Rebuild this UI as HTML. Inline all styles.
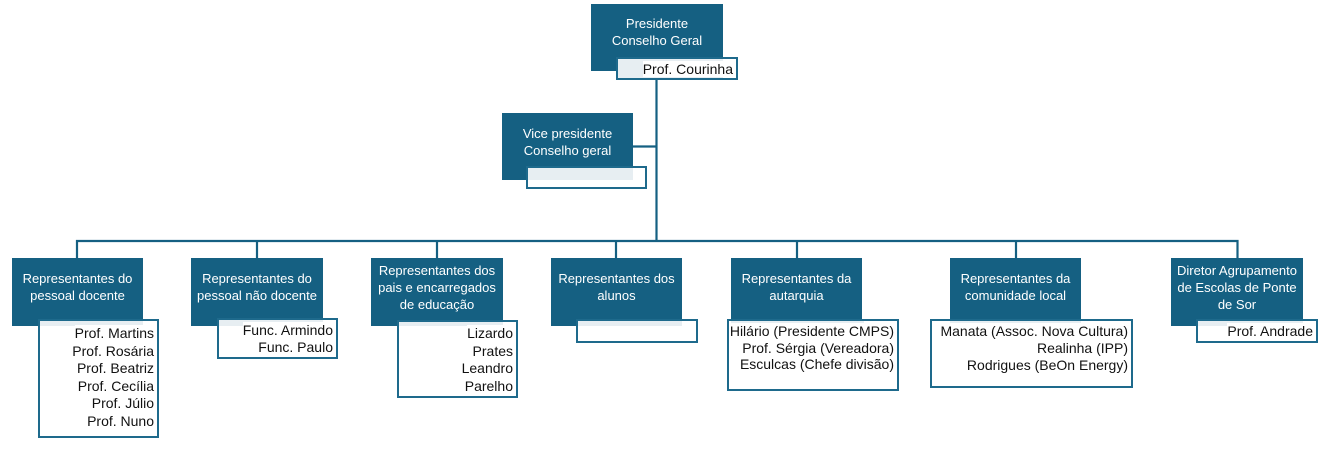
<!DOCTYPE html>
<html>
<head>
<meta charset="utf-8">
<style>
  html, body { margin:0; padding:0; background:#fff; }
  body { width:1333px; height:468px; position:relative; overflow:hidden;
         font-family:"Liberation Sans", Arial, sans-serif; }
  .b { position:absolute; background:#156082; color:#fff; font-size:13px; line-height:17px; }
  .bt { position:absolute; left:0; right:0; top:0; display:flex; flex-direction:column;
        justify-content:center; align-items:center; text-align:center; white-space:nowrap; }
  .n { position:absolute; background:#fff; border:2px solid #1e6a8c; box-sizing:border-box; }
  .tint { position:absolute; background:#e7eef2; }
  .nt { position:absolute; right:3px; text-align:right; color:#111; font-size:14px; white-space:nowrap; }
  .nt span { background:#fff; }
  svg { position:absolute; left:0; top:0; }
</style>
</head>
<body>

<svg width="1333" height="468">
  <g stroke="#156082" stroke-width="2.2" fill="none">
    <line x1="656.5" y1="80" x2="656.5" y2="241"/>
    <line x1="633" y1="146.5" x2="656.5" y2="146.5"/>
    <polyline points="77,258 77,241 1237.5,241 1237.5,258"/>
    <line x1="257" y1="241" x2="257" y2="258"/>
    <line x1="437" y1="241" x2="437" y2="258"/>
    <line x1="616" y1="241" x2="616" y2="258"/>
    <line x1="797" y1="241" x2="797" y2="258"/>
    <line x1="1016" y1="241" x2="1016" y2="258"/>
  </g>
</svg>

<!-- Presidente -->
<div class="b" style="left:591px;top:4px;width:132px;height:67px;">
  <div class="bt" style="height:56px;">Presidente<br>Conselho Geral</div>
</div>
<div class="n" style="left:616px;top:57px;width:122px;height:23px;">
  <div class="tint" style="left:0;top:0;width:105px;height:19px;"></div>
  <div class="nt" style="top:2px;line-height:17px;"><span>Prof. Courinha</span></div>
</div>

<!-- Vice -->
<div class="b" style="left:502px;top:113px;width:131px;height:67px;">
  <div class="bt" style="height:58px;">Vice presidente<br>Conselho geral</div>
</div>
<div class="n" style="left:526px;top:166px;width:121px;height:23px;">
  <div class="tint" style="left:0;top:0;width:105px;height:12px;"></div>
</div>

<!-- 1 -->
<div class="b" style="left:12px;top:258px;width:131px;height:68px;">
  <div class="bt" style="height:58px;">Representantes do<br>pessoal docente</div>
</div>
<div class="n" style="left:38px;top:319px;width:121px;height:119px;">
  <div class="tint" style="left:0;top:0;width:103px;height:5px;"></div>
  <div class="nt" style="top:4px;line-height:17.5px;"><span>Prof. Martins</span><br><span>Prof. Rosária</span><br><span>Prof. Beatriz</span><br><span>Prof. Cecília</span><br><span>Prof. Júlio</span><br><span>Prof. Nuno</span></div>
</div>

<!-- 2 -->
<div class="b" style="left:191px;top:258px;width:132px;height:68px;">
  <div class="bt" style="height:58px;">Representantes do<br>pessoal não docente</div>
</div>
<div class="n" style="left:217px;top:318px;width:121px;height:41px;">
  <div class="tint" style="left:0;top:0;width:104px;height:6px;"></div>
  <div class="nt" style="top:2px;line-height:17px;"><span>Func. Armindo</span><br><span>Func. Paulo</span></div>
</div>

<!-- 3 -->
<div class="b" style="left:371px;top:258px;width:132px;height:68px;">
  <div class="bt" style="height:58px;">Representantes dos<br>pais e encarregados<br>de educação</div>
</div>
<div class="n" style="left:397px;top:320px;width:121px;height:78px;">
  <div class="tint" style="left:0;top:0;width:104px;height:4px;"></div>
  <div class="nt" style="top:3px;line-height:17.6px;"><span>Lizardo</span><br><span>Prates</span><br><span>Leandro</span><br><span>Parelho</span></div>
</div>

<!-- 4 -->
<div class="b" style="left:551px;top:258px;width:131px;height:68px;">
  <div class="bt" style="height:58px;">Representantes dos<br>alunos</div>
</div>
<div class="n" style="left:576px;top:319px;width:122px;height:24px;">
  <div class="tint" style="left:0;top:0;width:104px;height:5px;"></div>
</div>

<!-- 5 -->
<div class="b" style="left:731px;top:258px;width:131px;height:68px;">
  <div class="bt" style="height:58px;">Representantes da<br>autarquia</div>
</div>
<div class="n" style="left:727px;top:319px;width:172px;height:72px;">
  <div class="tint" style="left:2px;top:0;width:133px;height:5px;"></div>
  <div class="nt" style="top:2px;line-height:16.7px;"><span>Hilário (Presidente CMPS)</span><br><span>Prof. Sérgia (Vereadora)</span><br><span>Esculcas (Chefe divisão)</span></div>
</div>

<!-- 6 -->
<div class="b" style="left:950px;top:258px;width:131px;height:68px;">
  <div class="bt" style="height:58px;">Representantes da<br>comunidade local</div>
</div>
<div class="n" style="left:930px;top:319px;width:203px;height:69px;">
  <div class="tint" style="left:18px;top:0;width:131px;height:5px;"></div>
  <div class="nt" style="top:2px;line-height:16.8px;"><span>Manata (Assoc. Nova Cultura)</span><br><span>Realinha (IPP)</span><br><span>Rodrigues (BeOn Energy)</span></div>
</div>

<!-- 7 -->
<div class="b" style="left:1171px;top:258px;width:132px;height:68px;">
  <div class="bt" style="height:58px;">Diretor Agrupamento<br>de Escolas de Ponte<br>de Sor</div>
</div>
<div class="n" style="left:1196px;top:319px;width:122px;height:24px;">
  <div class="tint" style="left:0;top:0;width:105px;height:5px;"></div>
  <div class="nt" style="top:2px;line-height:17px;"><span>Prof. Andrade</span></div>
</div>

</body>
</html>
